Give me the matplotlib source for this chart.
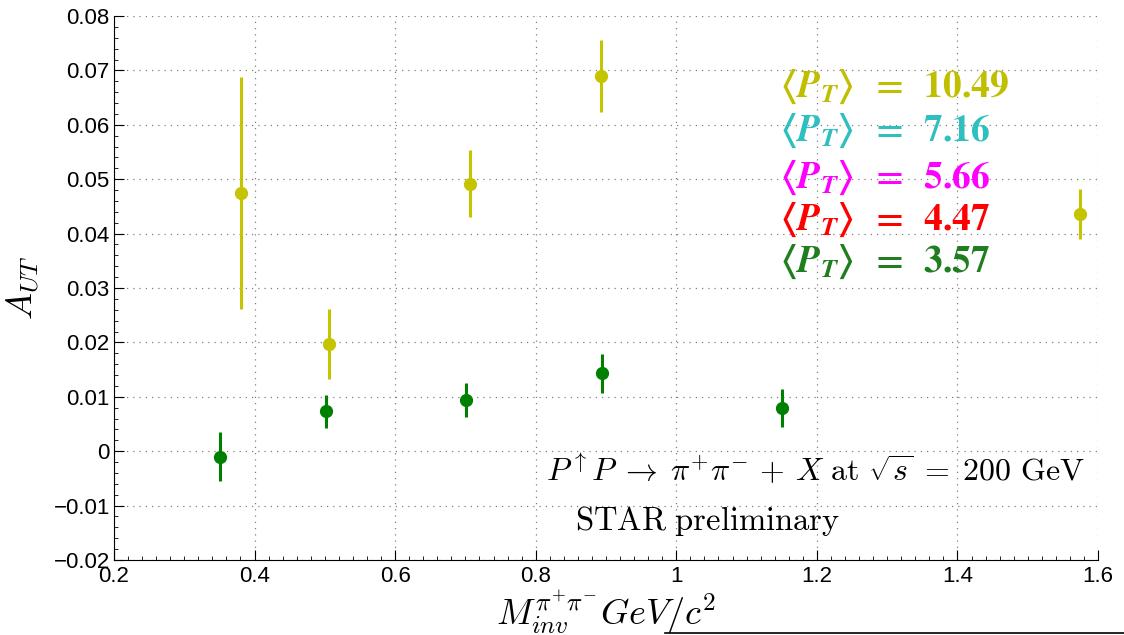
import matplotlib
matplotlib.use('Agg')
import matplotlib.pyplot as plt
from matplotlib.lines import Line2D
from matplotlib.ticker import AutoMinorLocator

plt.rcParams['font.family'] = ['Liberation Sans', 'DejaVu Sans']
plt.rcParams['mathtext.fontset'] = 'cm'

# data
green_x = [0.351, 0.501, 0.701, 0.895, 1.150]
green_y = [-0.0010, 0.0073, 0.0094, 0.0143, 0.0080]
green_err = [0.0045, 0.0031, 0.0031, 0.0036, 0.0035]

yellow_x = [0.381, 0.506, 0.707, 0.893, 1.574]
yellow_y = [0.0474, 0.0197, 0.0492, 0.0689, 0.0436]
yellow_err = [0.0213, 0.0065, 0.0061, 0.0066, 0.0046]

pt_labels = ['10.49', '7.16', '5.66', '4.47', '3.57']
pt_colors = ['#bfbf00', '#2fbfbf', '#ff00ff', '#ff0000', '#1f7f1f']

fig = plt.figure(figsize=(11.24, 6.35), dpi=100)
ax = fig.add_axes([0.1014, 0.1181, 0.8755, 0.8567])

ax.errorbar(green_x, green_y, yerr=green_err, fmt='o', color='#008000',
            ms=8.5, elinewidth=2.2, capsize=0, zorder=3)
ax.errorbar(yellow_x, yellow_y, yerr=yellow_err, fmt='o', color='#c4c400',
            ms=8.5, elinewidth=2.2, capsize=0, zorder=3)

ax.set_xlim(0.2, 1.6)
ax.set_ylim(-0.02, 0.08)
ax.set_xticks([0.2, 0.4, 0.6, 0.8, 1.0, 1.2, 1.4, 1.6])
ax.set_xticklabels(['0.2', '0.4', '0.6', '0.8', '1', '1.2', '1.4', '1.6'])
ax.set_yticks([-0.02, -0.01, 0, 0.01, 0.02, 0.03, 0.04, 0.05, 0.06, 0.07, 0.08])
ax.set_yticklabels(['\u22120.02', '\u22120.01', '0', '0.01', '0.02', '0.03',
                    '0.04', '0.05', '0.06', '0.07', '0.08'])
ax.xaxis.set_minor_locator(AutoMinorLocator(10))
ax.yaxis.set_minor_locator(AutoMinorLocator(5))
ax.tick_params(which='major', direction='in', length=7, labelsize=16, pad=3)
ax.tick_params(axis='x', which='major', pad=4)
ax.tick_params(which='minor', direction='in', length=3)
ax.spines['top'].set_visible(False)
ax.spines['right'].set_visible(False)
ax.grid(True, which='major', linestyle=(0, (1, 4)), color='#808080', linewidth=0.9)

ax.set_ylabel(r'$A_{UT}$', fontsize=26, labelpad=8)
ax.set_xlabel(r'$M_{inv}^{\pi^{+}\pi^{-}} GeV/c^{2}$', fontsize=26, labelpad=1)

# <P_T> labels
ys = [87, 131, 178, 220, 262]
for lab, col, yp in zip(pt_labels, pt_colors, ys):
    fig.text(780 / 1124, 1 - yp / 635,
             r'$\mathbf{\langle} \mathbfit{P}_{\mathbfit{T}} \mathbf{\rangle} \;\; \mathbf{=} \;\; \mathbf{' + lab + '}$',
             color=col, fontsize=27, va='center', ha='left', math_fontfamily='stix')

fig.text(546 / 1124, 1 - 470 / 635,
         r'$P^{\uparrow}P \;\rightarrow\; \pi^{+}\pi^{-} \,+\, X\ \mathrm{at}\ \sqrt{s} \;=\; 200\ \mathrm{GeV}$',
         fontsize=23, va='center', ha='left')
fig.text(575 / 1124, 1 - 521 / 635, r'$\mathrm{STAR\ preliminary}$',
         fontsize=23.5, va='center', ha='left')

fig.add_artist(Line2D([665 / 1124, 1.0], [2.5 / 635, 2.5 / 635],
                      color='black', linewidth=1.2))

plt.savefig('out.png', dpi=100)
